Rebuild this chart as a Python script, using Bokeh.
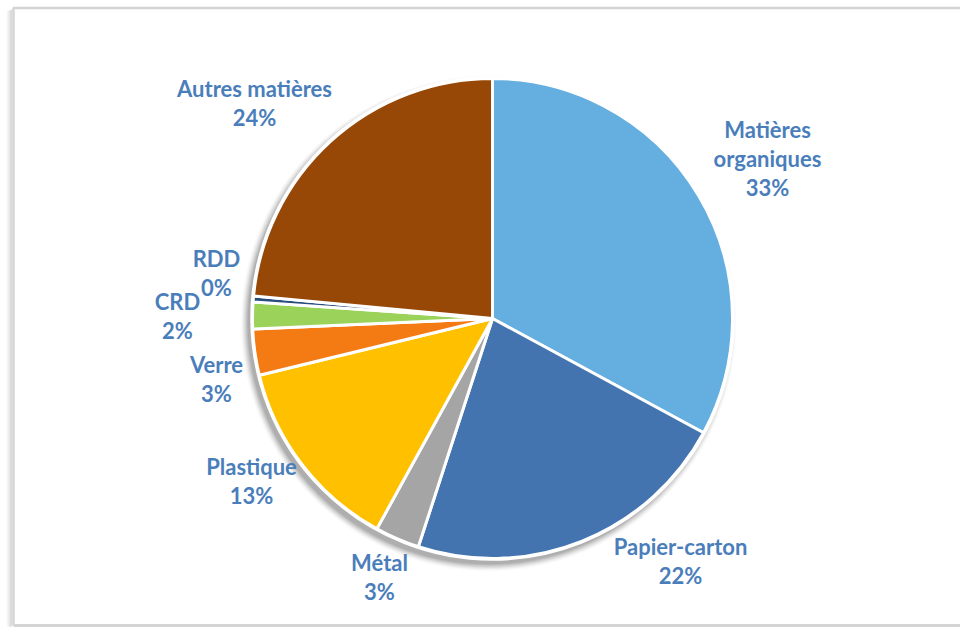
import numpy as np
from bokeh.plotting import figure
from bokeh.models import ColumnDataSource, Range1d
from bokeh.core.properties import value
from bokeh.embed import file_html
from bokeh.resources import INLINE

# ---- data ----
categories = ["Matières organiques", "Papier-carton", "Métal", "Plastique",
              "Verre", "CRD", "RDD", "Autres matières"]
display_names = [["Matières", "organiques"], ["Papier-carton"], ["Métal"], ["Plastique"],
                 ["Verre"], ["CRD"], ["RDD"], ["Autres matières"]]
shares = [32.9, 22.1, 3.0, 13.2, 3.1, 1.8, 0.4, 23.5]
colors = ["#64AEE0", "#4474B0", "#A5A5A5", "#FFC000",
          "#F47A14", "#9BD35A", "#264D7E", "#974806"]

# ---- layout (screen pixel coordinates, y downwards) ----
W, H = 960, 627
CX, CY, R = 492, 318, 240
LINE_GAP = 29
label_x = [767, 680, 379, 251, 216, 177, 216, 254]
label_y = [158, 560, 576, 480, 378, 315, 272, 102]

vals = np.array(shares, dtype=float)
frac = vals / vals.sum()
cum_end = np.cumsum(frac)
cum_start = cum_end - frac
start_angle = np.pi / 2 - 2 * np.pi * cum_end
end_angle = np.pi / 2 - 2 * np.pi * cum_start

pct = [f"{round(v):.0f}%" for v in vals]

p = figure(width=W, height=H, x_range=Range1d(0, W), y_range=Range1d(0, H),
           x_axis_type=None, y_axis_type=None, toolbar_location=None,
           output_backend="svg", min_border=0)
p.grid.visible = False
p.outline_line_color = None
p.background_fill_color = "white"
p.border_fill_color = "white"

# chart frame with soft shadow
for i, a in enumerate([0.05, 0.08, 0.12, 0.18, 0.25]):
    off = 5 - i
    p.line(x=[12 - off, 12 - off], y=[H - 9 - off * 0.3, H - 626], line_color="#7f7f7f",
           line_alpha=a, line_width=1.5)
p.line(x=[13, 13, W + 5], y=[H - 625, H - 7.5, H - 7.5], line_color="#D4D4D4", line_width=2.5)
p.line(x=[13, W + 5], y=[H - 625, H - 625], line_color="#D4D4D4", line_width=3)

# pie shadow
for k, a in zip(range(10, 0, -1), np.linspace(0.012, 0.06, 10)):
    p.circle(x=CX - 4, y=H - CY - 5, radius=R + k * 0.8, fill_color="#000000",
             fill_alpha=a, line_color=None)

src = ColumnDataSource(dict(cat=categories, start=start_angle, end=end_angle, color=colors))
p.wedge(x=CX, y=H - CY, radius=R, start_angle="start", end_angle="end",
        direction="anticlock", fill_color="color", line_color="white",
        line_width=3, source=src)
p.circle(x=CX, y=H - CY, radius=R + 1, fill_color=None, line_color="white", line_width=2.5)

# labels: one text per line for exact spacing
lx, ly, lt = [], [], []
for names, pc, x0, y0 in zip(display_names, pct, label_x, label_y):
    lines = names + [pc]
    n = len(lines)
    for i, t in enumerate(lines):
        lx.append(x0)
        ly.append(H - (y0 + (i - (n - 1) / 2) * LINE_GAP))
        lt.append(t)
lsrc = ColumnDataSource(dict(x=lx, y=ly, t=lt))
p.text(x="x", y="y", text="t", source=lsrc, text_align="center", text_baseline="middle",
       text_font=value("Lato"), text_font_style="bold", text_font_size="22px",
       text_color="#4A7EBB")

html = file_html(p, INLINE)
open("out.html", "w").write(html)
